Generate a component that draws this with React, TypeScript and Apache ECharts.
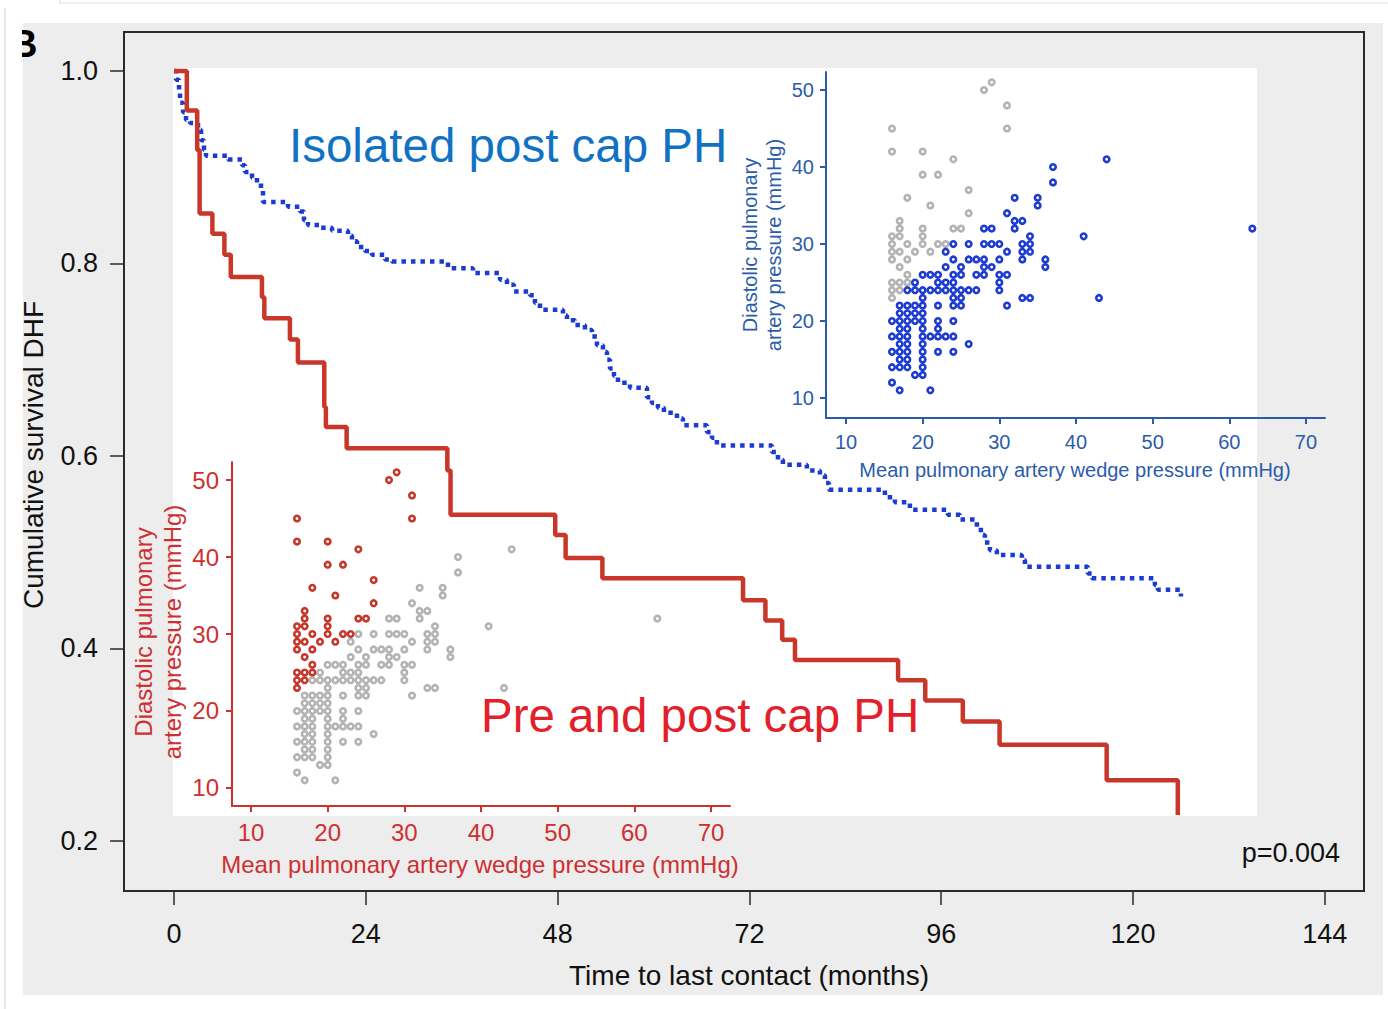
import React, { useEffect, useRef } from "react";
import * as echarts from "echarts";

// ---------- Data ----------
const xTicks = [0, 24, 48, 72, 96, 120, 144];
const yTicks = [0.2, 0.4, 0.6, 0.8, 1.0];
const insetXTicks = [10, 20, 30, 40, 50, 60, 70];
const insetYTicks = [10, 20, 30, 40, 50];

// Kaplan-Meier: Pre and post capillary PH (time in months, survival)
const redKM: [number, number][] = [
  [0, 1.0], [1.6, 0.959], [2.9, 0.918], [3.2, 0.852], [4.8, 0.831], [6.3, 0.809],
  [7.1, 0.786], [11.0, 0.765], [11.3, 0.743], [14.5, 0.721], [15.5, 0.697],
  [18.8, 0.651], [19.0, 0.63], [21.6, 0.608], [34.2, 0.585], [34.6, 0.539],
  [47.7, 0.518], [49.0, 0.494], [53.6, 0.473], [71.2, 0.45], [74.0, 0.429],
  [76.1, 0.409], [77.7, 0.388], [90.6, 0.367], [94.0, 0.346], [98.7, 0.324],
  [103.3, 0.3], [116.7, 0.263], [125.6, 0.227],
];

// Kaplan-Meier: Isolated post capillary PH
const blueKM: [number, number][] = [
  [0, 1.0], [0.25, 0.991], [0.63, 0.98], [0.75, 0.967], [1.13, 0.957], [1.5, 0.949],
  [2.0, 0.946], [3.0, 0.939], [3.38, 0.928], [3.75, 0.918], [4.0, 0.912], [6.76, 0.908],
  [8.51, 0.902], [8.88, 0.895], [9.76, 0.889], [10.38, 0.884], [10.88, 0.876],
  [11.13, 0.864], [14.26, 0.859], [15.76, 0.854], [16.26, 0.845], [16.76, 0.84],
  [18.27, 0.837], [19.77, 0.834], [21.77, 0.829], [22.27, 0.823], [22.9, 0.817],
  [23.9, 0.813], [24.77, 0.809], [26.4, 0.804], [27.27, 0.802], [34.28, 0.795],
  [37.41, 0.79], [40.79, 0.783], [41.66, 0.778], [42.54, 0.771], [44.54, 0.767],
  [45.16, 0.759], [45.79, 0.752], [48.67, 0.746], [49.17, 0.741], [50.17, 0.736],
  [51.42, 0.731], [52.3, 0.724], [52.92, 0.715], [53.67, 0.708], [54.17, 0.7],
  [54.55, 0.691], [55.05, 0.683], [55.55, 0.676], [57.05, 0.671], [59.18, 0.661],
  [59.8, 0.655], [60.55, 0.65], [61.3, 0.645], [62.93, 0.639], [63.68, 0.632],
  [66.68, 0.625], [67.31, 0.619], [67.93, 0.611], [74.82, 0.604], [75.57, 0.596],
  [76.19, 0.591], [79.19, 0.585], [80.82, 0.58], [81.45, 0.572], [81.95, 0.565],
  [88.95, 0.557], [90.2, 0.552], [92.08, 0.544], [96.83, 0.539], [98.34, 0.534],
  [100.46, 0.526], [100.96, 0.518], [101.46, 0.51], [102.09, 0.502], [102.96, 0.497],
  [106.09, 0.492], [106.47, 0.485], [114.35, 0.478], [114.85, 0.473], [122.73, 0.466],
  [123.11, 0.461], [125.99, 0.454],
];

// Scatter: mean PAWP (x) vs diastolic PAP (y)
const isolatedPts: [number, number][] = [
  [17, 11], [21, 11], [16, 12], [19, 13], [20, 13],
  [16, 14], [17, 14], [18, 14], [20, 14],
  [17, 15], [18, 15], [20, 15],
  [16, 16], [17, 16], [18, 16], [20, 16], [22, 16], [24, 16],
  [17, 17], [18, 17], [20, 17], [26, 17],
  [16, 18], [17, 18], [18, 18], [20, 18], [21, 18], [22, 18], [23, 18], [24, 18],
  [17, 19], [18, 19], [20, 19], [22, 19],
  [16, 20], [17, 20], [18, 20], [19, 20], [20, 20], [22, 20], [24, 20],
  [17, 21], [18, 21], [19, 21], [20, 21],
  [17, 22], [18, 22], [19, 22], [20, 22], [22, 22], [24, 22], [25, 22], [31, 22],
  [20, 23], [24, 23], [25, 23], [33, 23], [34, 23], [43, 23],
  [18, 24], [19, 24], [20, 24], [21, 24], [22, 24], [23, 24], [24, 24], [25, 24], [26, 24], [27, 24], [30, 24],
  [19, 25], [22, 25], [23, 25], [24, 25], [30, 25],
  [20, 26], [21, 26], [22, 26], [24, 26], [25, 26], [27, 26], [28, 26], [30, 26], [31, 26],
  [23, 27], [25, 27], [28, 27], [29, 27], [36, 27],
  [24, 28], [26, 28], [27, 28], [28, 28], [30, 28], [33, 28], [36, 28],
  [23, 29], [31, 29], [33, 29], [34, 29],
  [24, 30], [26, 30], [28, 30], [29, 30], [30, 30], [33, 30], [34, 30],
  [34, 31], [41, 31],
  [28, 32], [29, 32], [32, 32], [63, 32],
  [32, 33], [33, 33], [31, 34], [35, 35], [32, 36], [35, 36],
  [37, 38], [37, 40], [44, 41],
];

const combinedPts: [number, number][] = [
  [16, 45], [16, 42], [20, 42], [20, 39], [22, 39], [24, 41], [28, 50], [29, 51],
  [31, 48], [31, 45], [26, 37], [26, 34], [18, 36], [21, 35], [17, 33], [17, 32],
  [16, 31], [17, 31], [16, 30], [18, 30], [16, 29], [17, 29], [19, 29], [16, 28],
  [18, 28], [17, 27], [18, 26], [16, 25], [17, 25], [18, 25], [16, 24], [17, 24],
  [16, 23], [20, 32], [20, 31], [20, 30], [21, 29], [22, 30], [23, 30], [24, 32], [25, 32],
];

// ---------- Styles ----------
const FONT = "'Liberation Sans', Arial, Helvetica, sans-serif";
const BLUE_AX = "#2b5cab";
const RED_AX = "#cf2f30";
const BLUE_DOT = "#1c3bd0";
const RED_DOT = "#c4372a";
const GRAY_DOT = "#b3b3b3";

function App() {
  const ref = useRef<HTMLDivElement>(null);

  useEffect(() => {
    if (!ref.current) return;
    const chart = echarts.init(ref.current, undefined, { renderer: "svg" });

    const insetAxisX = (grid: number, min: number, color: string, fs: number, margin: number) => ({
      type: "value",
      gridIndex: grid,
      min,
      max: 72.48,
      axisLine: { show: true, onZero: false, lineStyle: { color, width: 2 } },
      axisTick: { show: true, length: 6, customValues: insetXTicks, lineStyle: { color, width: 2 } },
      axisLabel: { show: true, customValues: insetXTicks, color, fontSize: fs, fontFamily: FONT, margin },
      splitLine: { show: false },
    });
    const insetAxisY = (grid: number, min: number, color: string, fs: number, margin: number) => ({
      type: "value",
      gridIndex: grid,
      min,
      max: 52.34,
      axisLine: { show: true, onZero: false, lineStyle: { color, width: 2 } },
      axisTick: { show: true, length: 6, customValues: insetYTicks, lineStyle: { color, width: 2 } },
      axisLabel: { show: true, customValues: insetYTicks, color, fontSize: fs, fontFamily: FONT, margin },
      splitLine: { show: false },
    });

    const scatter = (xi: number, data: [number, number][], color: string, z: number) => ({
      type: "scatter",
      xAxisIndex: xi,
      yAxisIndex: xi,
      data,
      symbol: "circle",
      symbolSize: 5.5,
      itemStyle: { color: "#ffffff", borderColor: color, borderWidth: 2.6, opacity: 1 },
      z,
      silent: true,
    });

    const option: any = {
      animation: false,
      grid: [
        { left: 124, top: 32, width: 1240, height: 859, show: true, borderColor: "#2a2a2a", borderWidth: 2, backgroundColor: "transparent" },
        { left: 826, top: 72, width: 499, height: 346 },
        { left: 232, top: 462, width: 498, height: 344 },
      ],
      xAxis: [
        {
          type: "value",
          gridIndex: 0,
          min: -6.26,
          max: 148.9,
          axisLine: { show: true, onZero: false, lineStyle: { color: "#2a2a2a", width: 2 } },
          axisTick: { show: true, length: 14, customValues: xTicks, lineStyle: { color: "#2a2a2a", width: 1.5 } },
          axisLabel: { show: true, customValues: xTicks, color: "#111", fontSize: 27, fontFamily: FONT, margin: 29 },
          splitLine: { show: false },
        },
        insetAxisX(1, 7.39, BLUE_AX, 20, 14),
        insetAxisX(2, 7.52, RED_AX, 24, 14),
      ],
      yAxis: [
        {
          type: "value",
          gridIndex: 0,
          min: 0.148,
          max: 1.0405,
          axisLine: { show: true, onZero: false, lineStyle: { color: "#2a2a2a", width: 2 } },
          axisTick: { show: true, length: 14, customValues: yTicks, lineStyle: { color: "#2a2a2a", width: 1.5 } },
          axisLabel: {
            show: true,
            customValues: yTicks,
            color: "#111",
            fontSize: 27,
            fontFamily: FONT,
            margin: 26,
            formatter: (v: number) => v.toFixed(1),
          },
          splitLine: { show: false },
        },
        insetAxisY(1, 7.4, BLUE_AX, 20, 12),
        insetAxisY(2, 7.66, RED_AX, 24, 13),
      ],
      series: [
        {
          type: "line",
          xAxisIndex: 0,
          yAxisIndex: 0,
          data: blueKM,
          step: "end",
          showSymbol: false,
          symbol: "none",
          lineStyle: { color: BLUE_DOT, width: 4.5, type: [4.5, 5], cap: "butt" },
          z: 3,
          silent: true,
        },
        {
          type: "line",
          xAxisIndex: 0,
          yAxisIndex: 0,
          data: redKM,
          step: "end",
          showSymbol: false,
          symbol: "none",
          lineStyle: { color: "#c8372a", width: 4.5 },
          z: 4,
          silent: true,
        },
        scatter(1, combinedPts, GRAY_DOT, 5),
        scatter(1, isolatedPts, BLUE_DOT, 6),
        scatter(2, isolatedPts, GRAY_DOT, 5),
        scatter(2, combinedPts, RED_DOT, 6),
      ],
      graphic: [
        { type: "rect", shape: { x: 23, y: 23, width: 1360, height: 972 }, style: { fill: "#ededed" }, z: -100, silent: true },
        { type: "rect", shape: { x: 173, y: 68, width: 1084, height: 748 }, style: { fill: "#ffffff" }, z: -90, silent: true },
        {
          type: "text",
          x: 10,
          y: 44,
          style: { text: "B", font: `bold 38px ${FONT}`, fill: "#000", align: "left", textAlign: "left", verticalAlign: "middle", textVerticalAlign: "middle" },
          z: -80,
          silent: true,
        },
        { type: "rect", shape: { x: 0, y: 0, width: 22, height: 1009 }, style: { fill: "#ffffff" }, z: -70, silent: true },
        { type: "line", shape: { x1: 5, y1: 8, x2: 5, y2: 1009 }, style: { stroke: "#cfcfcf", lineWidth: 1 }, z: -60, silent: true },
        { type: "line", shape: { x1: 60, y1: 3, x2: 1388, y2: 3 }, style: { stroke: "#e2e2e2", lineWidth: 1 }, z: -60, silent: true },
        { type: "line", shape: { x1: 60, y1: 0, x2: 60, y2: 4 }, style: { stroke: "#d8d8d8", lineWidth: 1 }, z: -60, silent: true },
        // main titles
        {
          type: "text",
          x: 749,
          y: 975,
          style: { text: "Time to last contact (months)", font: `28px ${FONT}`, fill: "#111", align: "center", textAlign: "center", verticalAlign: "middle", textVerticalAlign: "middle" },
          z: 50,
          silent: true,
        },
        {
          type: "text",
          x: 33,
          y: 455,
          rotation: Math.PI / 2,
          style: { text: "Cumulative survival DHF", font: `28px ${FONT}`, fill: "#111", align: "center", textAlign: "center", verticalAlign: "middle", textVerticalAlign: "middle" },
          z: 50,
          silent: true,
        },
        {
          type: "text",
          x: 1340,
          y: 853,
          style: { text: "p=0.004", font: `27px ${FONT}`, fill: "#111", align: "right", textAlign: "right", verticalAlign: "middle", textVerticalAlign: "middle" },
          z: 50,
          silent: true,
        },
        {
          type: "text",
          x: 289,
          y: 145,
          style: { text: "Isolated post cap PH", font: `47.5px ${FONT}`, fill: "#1172c4", align: "left", textAlign: "left", verticalAlign: "middle", textVerticalAlign: "middle" },
          z: 50,
          silent: true,
        },
        {
          type: "text",
          x: 481,
          y: 715,
          style: { text: "Pre and post cap PH", font: `47.5px ${FONT}`, fill: "#e3202a", align: "left", textAlign: "left", verticalAlign: "middle", textVerticalAlign: "middle" },
          z: 50,
          silent: true,
        },
        // blue inset axis names
        {
          type: "text",
          x: 1075,
          y: 470,
          style: { text: "Mean pulmonary artery wedge pressure (mmHg)", font: `20px ${FONT}`, fill: BLUE_AX, align: "center", textAlign: "center", verticalAlign: "middle", textVerticalAlign: "middle" },
          z: 50,
          silent: true,
        },
        {
          type: "text",
          x: 762,
          y: 245,
          rotation: Math.PI / 2,
          style: { text: "Diastolic pulmonary\nartery pressure (mmHg)", font: `20px ${FONT}`, lineHeight: 24, fill: BLUE_AX, align: "center", textAlign: "center", verticalAlign: "middle", textVerticalAlign: "middle" },
          z: 50,
          silent: true,
        },
        // red inset axis names
        {
          type: "text",
          x: 480,
          y: 864,
          style: { text: "Mean pulmonary artery wedge pressure (mmHg)", font: `24px ${FONT}`, fill: RED_AX, align: "center", textAlign: "center", verticalAlign: "middle", textVerticalAlign: "middle" },
          z: 50,
          silent: true,
        },
        {
          type: "text",
          x: 158,
          y: 632,
          rotation: Math.PI / 2,
          style: { text: "Diastolic pulmonary\nartery pressure (mmHg)", font: `24px ${FONT}`, lineHeight: 29, fill: RED_AX, align: "center", textAlign: "center", verticalAlign: "middle", textVerticalAlign: "middle" },
          z: 50,
          silent: true,
        },
      ],
    };

    chart.setOption(option);
    return () => chart.dispose();
  }, []);

  return (
    <div
      ref={ref}
      style={{ position: "absolute", left: 0, top: 0, width: 1388, height: 1009, background: "#ffffff" }}
    />
  );
}

export default App;
